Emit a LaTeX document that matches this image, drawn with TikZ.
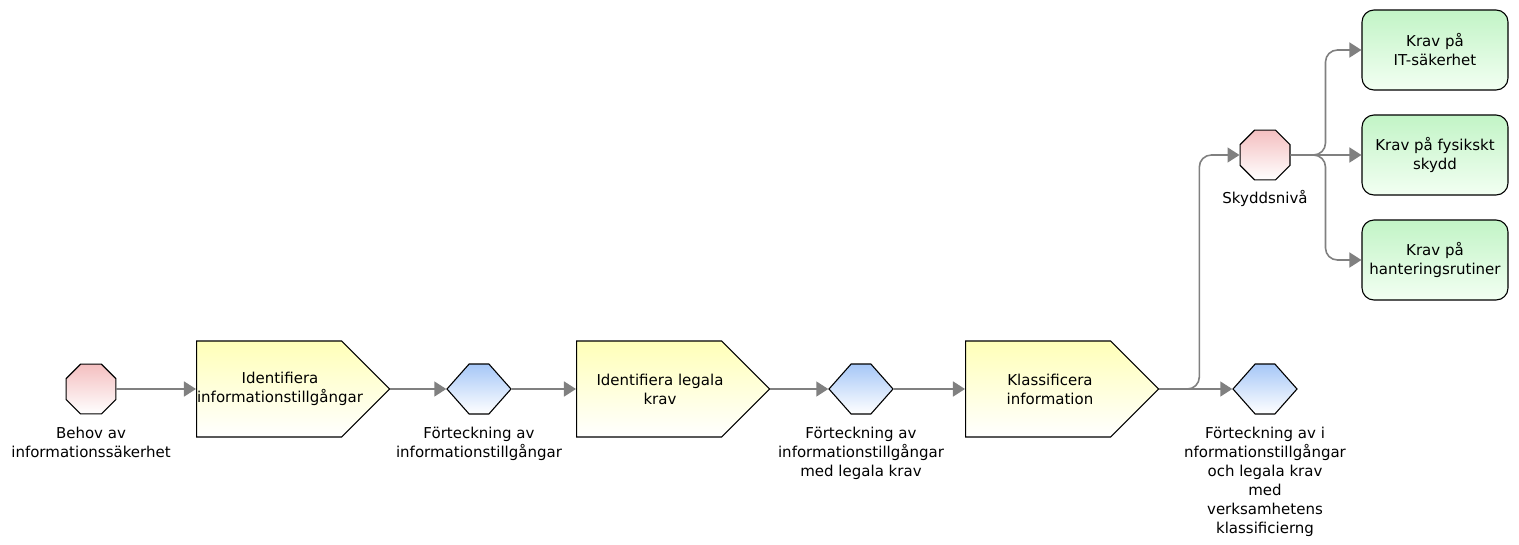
\documentclass[tikz,border=0pt]{standalone}
\usepackage{fontspec}
\setmainfont{DejaVu Sans}
\usetikzlibrary{shapes.geometric,shapes.symbols,arrows.meta,positioning}

\definecolor{evtop}{HTML}{F4BFC0}
\definecolor{objtop}{HTML}{A6C7F7}
\definecolor{fnctop}{HTML}{FFFFB8}
\definecolor{reqtop}{HTML}{C2F4C6}
\definecolor{flowgray}{HTML}{808080}

\begin{document}
\begin{tikzpicture}[x=1pt,y=-1pt,
 font=\fontsize{15}{19}\selectfont,
 event/.style={regular polygon,regular polygon sides=8,minimum size=54pt,inner sep=0pt,
   draw=black,line width=1.1pt,top color=evtop,bottom color=white},
 infobj/.style={signal,signal to=east and west,signal pointer angle=97,minimum width=64pt,
   minimum height=50pt,inner sep=0pt,draw=black,line width=1.1pt,top color=objtop,bottom color=white},
 func/.style={signal,signal to=east,signal pointer angle=90,minimum width=193pt,minimum height=96pt,
   inner sep=0pt,anchor=west,draw=black,line width=1.1pt,top color=fnctop,bottom color=white},
 req/.style={rectangle,rounded corners=12pt,minimum width=146pt,minimum height=80pt,inner sep=0pt,
   align=center,draw=black,line width=1.1pt,top color=reqtop,bottom color=white!95!green},
 lbl/.style={align=center,inner sep=0pt},
 flow/.style={draw=flowgray,line width=1.6pt,-{Triangle[length=12pt,width=15pt]}}]
\useasboundingbox (0,0) rectangle (1519,544);

% main chain
\node[event] (need) at (91,389) {};
\node[func] (identify) at (196,389) {};
\node[infobj] (assets) at (479,389) {};
\node[func] (legal) at (576,389) {};
\node[infobj] (assetslegal) at (861,389) {};
\node[func] (classify) at (965,389) {};
\node[infobj] (classified) at (1265,389) {};

% protection level and requirements
\node[event] (level) at (1265,155) {};
\node[req] (itsec) at (1435,50) {Krav på\\IT-säkerhet};
\node[req] (physical) at (1435,155) {Krav på fysikskt\\skydd};
\node[req] (routines) at (1435,260) {Krav på\\hanteringsrutiner};

% labels
\node[lbl] (identifytxt) at ([xshift=84pt]identify.west) {Identifiera\\informationstillgångar};
\node[lbl] (legaltxt) at ([xshift=84pt]legal.west) {Identifiera legala\\krav};
\node[lbl] (classifytxt) at ([xshift=85pt]classify.west) {Klassificera\\information};
\node[lbl,below=12pt of need] (needlbl) {Behov av\\informationssäkerhet};
\node[lbl,below=12pt of assets] (assetslbl) {Förteckning av\\informationstillgångar};
\node[lbl,below=12pt of assetslegal] (assetslegallbl) {Förteckning av\\informationstillgångar\\med legala krav};
\node[lbl,below=12pt of classified] (classifiedlbl) {Förteckning av i\\nformationstillgångar\\och legala krav\\med\\verksamhetens\\klassificierng};
\node[lbl,below=10pt of level] (levellbl) {Skyddsnivå};

% flows
\draw[flow] (need) -- (identify);
\draw[flow] (identify) -- (assets);
\draw[flow] (assets) -- (legal);
\draw[flow] (legal) -- (assetslegal);
\draw[flow] (assetslegal) -- (classify);
\draw[flow] (classify.east) -- (classified);
\draw[flow,rounded corners=12pt] (classify.east) -- ++(40,0) |- (level);
\draw[flow,rounded corners=12pt] (level.east) -- ++(35,0) |- (itsec);
\draw[flow] (level) -- (physical);
\draw[flow,rounded corners=12pt] (level.east) -- ++(35,0) |- (routines);
\end{tikzpicture}
\end{document}
